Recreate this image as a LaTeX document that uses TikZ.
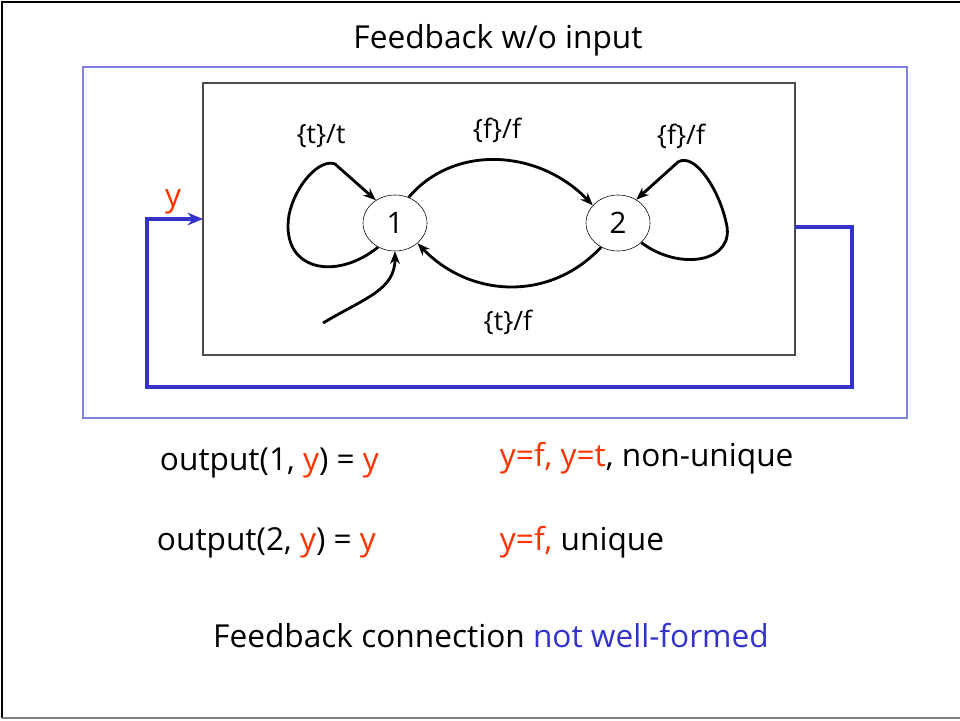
\documentclass[tikz,border=0pt]{standalone}
\usepackage{fontspec}
\setmainfont{Open Sans}
\usepackage{xcolor}
\usepackage{tikz}
\usetikzlibrary{arrows.meta, positioning}
\usetikzlibrary{shapes}
\definecolor{outred}{HTML}{FF3300}
\definecolor{fbblue}{HTML}{3333CC}
\definecolor{boxblue}{HTML}{8080E0}

\begin{document}
\begin{tikzpicture}[x=0.025cm, y=-0.025cm, >={Stealth[length=9pt, width=7pt]},
        state/.style={ellipse, draw, thin, minimum width=1.6cm, minimum height=1.4cm, inner sep=0pt, font=\fontsize{21}{24}\selectfont},
        edge/.style={->, line width=2pt},
        lbl/.style={font=\fontsize{19}{22}\selectfont},
        txt/.style={anchor=west, font=\fontsize{22.5}{26}\selectfont},
        fb/.style={-{Stealth[length=11pt, width=9pt]}, draw=fbblue, line width=2.6pt}]
        \useasboundingbox (0,0) rectangle (960,721);
        \draw[line width=1.8pt] (2,718) -- (2,2) -- (960,2);
        \draw[gray, line width=1pt] (2,718) -- (960,718);
        \node[font=\fontsize{22.5}{26}\selectfont] (title) at (498,40) {Feedback w/o input};
        \draw[boxblue, line width=1pt] (83,67) rectangle (907,418);
        \draw[draw=black!70, line width=1pt] (203,83) rectangle (795,355);
        \node[state] (s1) at (395,223) {1};
        \node[state] (s2) at (618,223) {2};
        \coordinate (start) at (323,323);
        \coordinate (fbout) at (795,227);
        \coordinate (fbin) at (203,219);
        \draw[edge] (s1.235) .. controls (335,282) and (280,270) .. (289,215) .. controls (295,185) and (320,158) .. (335,164) -- (s1.130);
        \draw[edge] (s2.-40) .. controls (680,272) and (737,262) .. (726,222) .. controls (719,190) and (695,152) .. (678,162) -- (s2.52);
        \draw[edge] (s1.62) .. controls (455,143) and (540,150) .. (s2.145);
        \draw[edge] (s2.-125) .. controls (550,302) and (470,298) .. (s1.-42);
        \draw[edge] (start) .. controls (365,298) and (395,290) .. (s1.south);
        \node[lbl] (l1) at (321,136) {\{t\}/t};
        \node[lbl] (l2) at (497,130) {\{f\}/f};
        \node[lbl] (l3) at (681,136) {\{f\}/f};
        \node[lbl] (l4) at (508,322) {\{t\}/f};
        \draw[fb] (fbout) -| (852,387) -| (147,219) -- (fbin);
        \node[font=\fontsize{22.5}{26}\selectfont, text=outred] (y) at (173,202) {y};
        \node[txt] (o1) at (155,463) {output(1, \textcolor{outred}{y}) = \textcolor{outred}{y}};
        \node[txt] (r1) at (495,458) {\textcolor{outred}{y=f, y=t}, non-unique};
        \node[txt] (o2) at (152,543) {output(2, \textcolor{outred}{y}) = \textcolor{outred}{y}};
        \node[txt] (r2) at (495,542) {\textcolor{outred}{y=f,} unique};
        \node[font=\fontsize{22.5}{26}\selectfont] (concl) at (491,636) {Feedback connection \textcolor{fbblue}{not well-formed}};
\end{tikzpicture}
\end{document}
